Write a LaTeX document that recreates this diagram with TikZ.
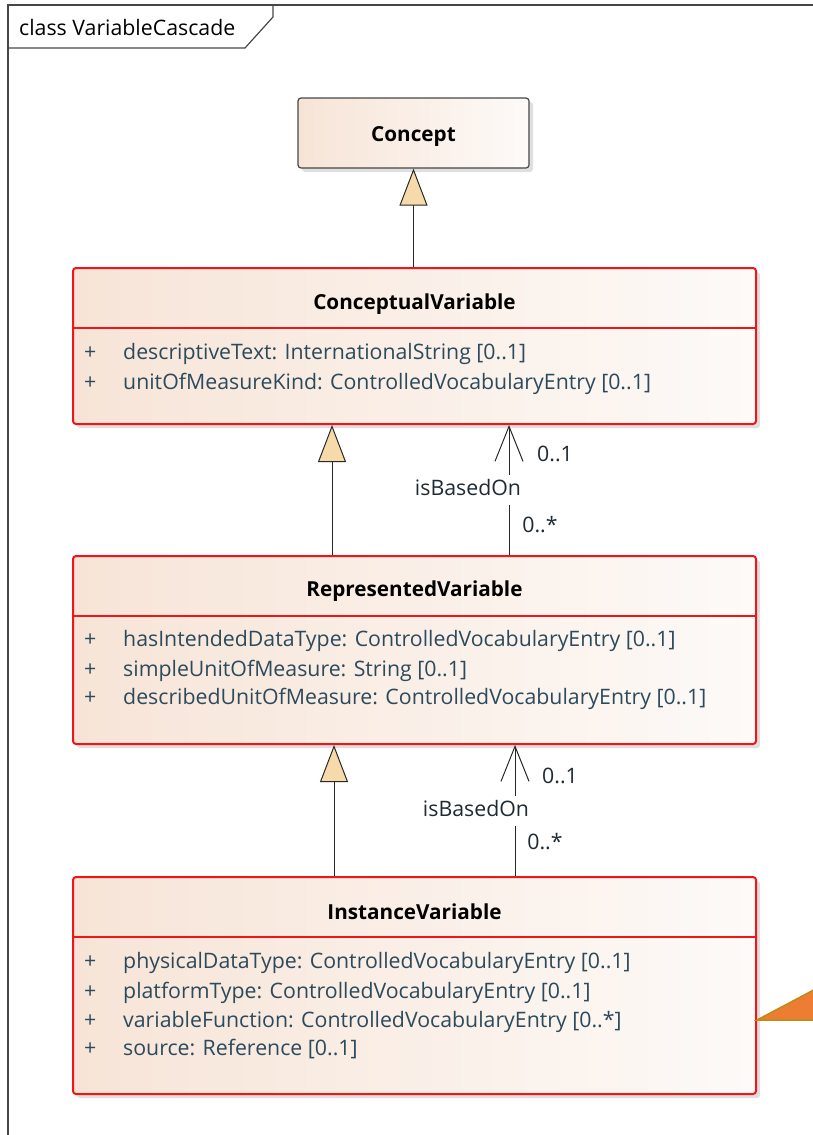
\documentclass[tikz,border=0pt]{standalone}
\usepackage{fontspec}
\setmainfont{Open Sans}
\usepackage{tikz}
\usetikzlibrary{arrows.meta,shadows}
\definecolor{umlred}{RGB}{240,22,22}
\definecolor{framegrey}{RGB}{70,70,70}
\definecolor{linegrey}{RGB}{40,40,40}
\definecolor{peachleft}{RGB}{247,228,215}
\definecolor{peachright}{RGB}{253,250,248}
\definecolor{attrslate}{RGB}{44,74,92}
\definecolor{labelslate}{RGB}{30,42,52}
\definecolor{gentan}{RGB}{246,218,170}
\definecolor{noteorange}{RGB}{236,125,50}
\definecolor{notegold}{RGB}{190,140,20}
\tikzset{
  classbox/.style={draw=umlred,line width=2pt,rounded corners=3pt,
    left color=peachleft,right color=peachright,
    minimum width=683pt,inner sep=0pt,
    drop shadow={shadow xshift=4pt,shadow yshift=-4pt,fill=black!25}},
  plainbox/.style={draw=framegrey,line width=1.2pt,rounded corners=3pt,
    left color=peachleft,right color=peachright,inner sep=0pt,
    drop shadow={shadow xshift=4pt,shadow yshift=-4pt,fill=black!25}},
  sepline/.style={draw=umlred,line width=2pt},
  classname/.style={font=\bfseries\fontsize{20.7}{24}\selectfont,inner sep=0pt,
    text height=15pt,text depth=5pt},
  attr/.style={anchor=west,inner sep=0pt,text height=15.5pt,text depth=5pt,
    text=attrslate,font=\fontsize{21.3}{25}\selectfont},
  gen/.style={-{Triangle[length=37pt,width=28pt,fill=gentan]},
    draw=linegrey,line width=1pt},
  assoc/.style={-{Straight Barb[length=35pt,width=28pt]},
    draw=linegrey,line width=1pt},
  rolelabel/.style={text=labelslate,font=\fontsize{21.3}{25}\selectfont,
    text height=15.5pt,text depth=5pt,inner xsep=1pt,inner ysep=5pt}
}

\begin{document}
\begin{tikzpicture}[x=1pt,y=-1pt]
  \useasboundingbox (0,0) rectangle (812,1135);
  % diagram frame
  \draw[framegrey,line width=1.2pt] (8,1140) -- (8,5) -- (820,5);
  \draw[framegrey,line width=1.2pt] (8,48) -- (245,48) -- (273,17) -- (273,5);
  \node[anchor=west,inner sep=0pt,font=\fontsize{21.3}{25}\selectfont] (frametitle)
    at (19,28) {class VariableCascade};

  % classes
  \node[plainbox,minimum width=231pt,minimum height=70pt] (concept) at (413.5,133) {};
  \node[classname] (conceptname) at (413.5,136) {Concept};

  \node[classbox,minimum height=156pt] (cv) at (414.5,346) {};
  \node[classname] (cvname) at (414.5,304) {ConceptualVariable};
  \draw[sepline] (73,328) -- (756,328);
  \node[attr] (cvp1) at (84,354) {+};
  \node[attr] (cva1) at (123,354) {descriptiveText: InternationalString [0..1]};
  \node[attr] (cvp2) at (84,384) {+};
  \node[attr] (cva2) at (123,384) {unitOfMeasureKind: ControlledVocabularyEntry [0..1]};

  \node[classbox,minimum height=188pt] (rv) at (414.5,650) {};
  \node[classname] (rvname) at (414.5,591) {RepresentedVariable};
  \draw[sepline] (73,616) -- (756,616);
  \node[attr] (rvp1) at (84,641) {+};
  \node[attr] (rva1) at (123,641) {hasIntendedDataType: ControlledVocabularyEntry [0..1]};
  \node[attr] (rvp2) at (84,671) {+};
  \node[attr] (rva2) at (123,671) {simpleUnitOfMeasure: String [0..1]};
  \node[attr] (rvp3) at (84,699.5) {+};
  \node[attr] (rva3) at (123,699.5) {describedUnitOfMeasure: ControlledVocabularyEntry [0..1]};

  \node[classbox,minimum height=217pt] (iv) at (414.5,985.5) {};
  \node[classname] (ivname) at (414.5,914) {InstanceVariable};
  \draw[sepline] (73,937) -- (756,937);
  \node[attr] (ivp1) at (84,963) {+};
  \node[attr] (iva1) at (123,963) {physicalDataType: ControlledVocabularyEntry [0..1]};
  \node[attr] (ivp2) at (84,993) {+};
  \node[attr] (iva2) at (123,993) {platformType: ControlledVocabularyEntry [0..1]};
  \node[attr] (ivp3) at (84,1022) {+};
  \node[attr] (iva3) at (123,1022) {variableFunction: ControlledVocabularyEntry [0..*]};
  \node[attr] (ivp4) at (84,1050.5) {+};
  \node[attr] (iva4) at (123,1050.5) {source: Reference [0..1]};

  % generalizations
  \draw[gen] (cv.north -| concept.south) -- (concept.south);
  \draw[gen] ([xshift=-82.5pt]rv.north) -- ([xshift=-82.5pt]cv.south);
  \draw[gen] ([xshift=-80.5pt]iv.north) -- ([xshift=-80.5pt]rv.south);

  % isBasedOn associations
  \draw[assoc] ([xshift=94.5pt]rv.north) -- ([xshift=94.5pt]cv.south);
  \node[rolelabel,fill=white] (cvbase) at (468,490) {isBasedOn};
  \node[rolelabel] (cvmto) at (555,456) {0..1};
  \node[rolelabel] (cvmfrom) at (540,527) {0..*};

  \draw[assoc] ([xshift=100.5pt]iv.north) -- ([xshift=100.5pt]rv.south);
  \node[rolelabel,fill=white] (rvbase) at (476,811) {isBasedOn};
  \node[rolelabel] (rvmto) at (560,778) {0..1};
  \node[rolelabel] (rvmfrom) at (545,844) {0..*};

  % edge of a neighbouring element
  \filldraw[fill=noteorange,draw=notegold,line width=1.5pt]
    (iv.east |- 0,1020) -- (840,976) -- (840,1020) -- cycle;
\end{tikzpicture}
\end{document}
